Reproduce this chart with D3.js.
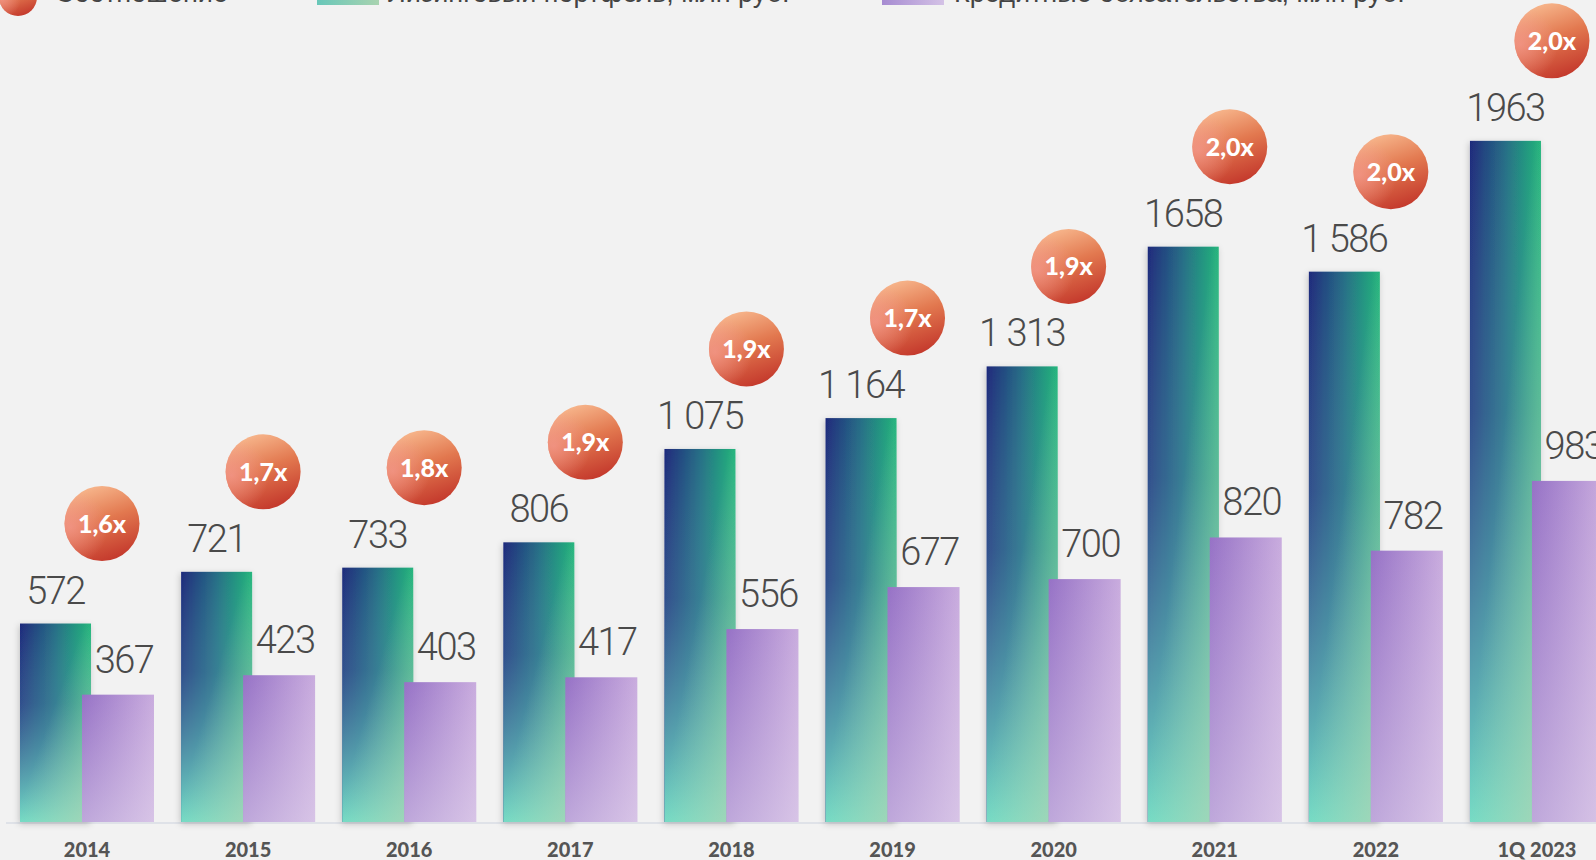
<!DOCTYPE html>
<html lang="ru">
<head>
<meta charset="utf-8">
<script src="https://d3js.org/d3.v7.min.js"></script>
<style>
  html, body { margin: 0; padding: 0; background: #f2f2f2; overflow: hidden; }
</style>
</head>
<body>
<script>
  var categories = ['2014', '2015', '2016', '2017', '2018', '2019', '2020', '2021', '2022', '1Q 2023'];
  var leasing = [572, 721, 733, 806, 1075, 1164, 1313, 1658, 1586, 1963];
  var credit = [367, 423, 403, 417, 556, 677, 700, 820, 782, 983];
  var leasingLabels = ['572', '721', '733', '806', '1 075', '1 164', '1 313', '1658', '1 586', '1963'];
  var creditLabels = ['367', '423', '403', '417', '556', '677', '700', '820', '782', '983'];
  var ratios = ['1,6x', '1,7x', '1,8x', '1,9x', '1,9x', '1,7x', '1,9x', '2,0x', '2,0x', '2,0x'];
  var legendLabels = ['Соотношение', 'Лизинговый портфель, млн руб.', 'Кредитные обязательства, млн руб.'];

  const W = 1596, H = 860;
  const baseY = 822;

  const svg = d3.select('body').append('svg')
    .attr('width', W).attr('height', H)
    .style('display', 'block');

  svg.append('rect').attr('width', W).attr('height', H).attr('fill', '#f2f2f2');

  const defs = svg.append('defs');

  function linGrad(id, x1, y1, x2, y2, stops) {
    const g = defs.append('linearGradient').attr('id', id)
      .attr('x1', x1).attr('y1', y1).attr('x2', x2).attr('y2', y2);
    stops.forEach(s => g.append('stop').attr('offset', s[0]).attr('stop-color', s[1]).attr('stop-opacity', s[2] == null ? 1 : s[2]));
  }
  // green bar layers
  linGrad('gA', 0, 0, 1, 0, [[0, '#1f2a7c'], [0.5, '#276e86'], [1, '#1fb47a']]);
  linGrad('gB', 0, 0, 0, 1, [[0, '#6fd6bf', 0], [0.4, '#5fa7b4', 0.3], [1, '#72dcc6', 1]]);
  linGrad('gC', 0, 0, 1, 1, [[0.45, '#b3d4b2', 0], [1, '#b3d4b2', 0.75]]);
  // purple bar layers
  linGrad('pA', 0, 0, 1, 0, [[0, '#9672c6'], [1, '#c9acde']]);
  linGrad('pB', 0, 0, 0, 1, [[0, '#e6dcef', 0], [1, '#e6dcef', 0.5]]);
  // legend swatches
  linGrad('lg', 0, 0, 1, 0, [[0, '#68c7b9'], [1, '#a9d3b0']]);
  linGrad('lp', 0, 0, 1, 0, [[0, '#a68bd1'], [1, '#d4c2e6']]);
  // bubble
  linGrad('cA', 0.35, 0, 0.7, 1, [[0, '#f7b68c'], [0.45, '#e2784f'], [1, '#c2352a']]);
  const rg = defs.append('radialGradient').attr('id', 'cB').attr('cx', 0.08).attr('cy', 0.55).attr('r', 0.5);
  rg.append('stop').attr('offset', 0).attr('stop-color', '#f59a92').attr('stop-opacity', 0.7);
  rg.append('stop').attr('offset', 1).attr('stop-color', '#f59a92').attr('stop-opacity', 0);

  const sh = defs.append('filter').attr('id', 'shadow').attr('x', -0.2).attr('y', -0.1).attr('width', 1.4).attr('height', 1.2);
  sh.append('feDropShadow').attr('dx', -1).attr('dy', 2).attr('stdDeviation', 3)
    .attr('flood-color', '#000').attr('flood-opacity', 0.2);

  const x = d3.scaleBand()
    .domain(categories)
    .range([20, 1604])
    .paddingInner(0.168)
    .paddingOuter(0)
    .align(0);

  const y = d3.scaleLinear().domain([0, 2000]).range([baseY, baseY - 694]);

  const gW = 71, pW = 72, pOff = 62;

  // axis line
  svg.append('line')
    .attr('x1', 6).attr('x2', W).attr('y1', baseY + 1).attr('y2', baseY + 1)
    .attr('stroke', '#dfe2e8').attr('stroke-width', 2);

  const groups = svg.selectAll('g.grp')
    .data(categories)
    .enter().append('g').attr('class', 'grp')
    .attr('transform', d => 'translate(' + x(d) + ',0)');

  groups.each(function (d, i) {
    const g = d3.select(this);
    // leasing bar
    const top = y(leasing[i]);
    const h = baseY - top;
    g.append('rect').attr('x', 0).attr('y', top).attr('width', gW).attr('height', h)
      .attr('fill', 'url(#gA)').attr('filter', 'url(#shadow)');
    g.append('rect').attr('x', 0).attr('y', top).attr('width', gW).attr('height', h).attr('fill', 'url(#gB)');
    g.append('rect').attr('x', 0).attr('y', top).attr('width', gW).attr('height', h).attr('fill', 'url(#gC)');

    // credit bar
    const ptop = y(credit[i]);
    const ph = baseY - ptop;
    g.append('rect').attr('x', pOff).attr('y', ptop).attr('width', pW).attr('height', ph).attr('fill', 'url(#pA)');
    g.append('rect').attr('x', pOff).attr('y', ptop).attr('width', pW).attr('height', ph).attr('fill', 'url(#pB)');

    // value labels
    g.append('text')
      .attr('x', gW / 2).attr('y', top - 20)
      .attr('text-anchor', 'middle')
      .style('font-family', 'Roboto, sans-serif').style('font-weight', 300)
      .style('font-size', '38px').style('letter-spacing', '-1.5px')
      .attr('fill', '#4a4a4a')
      .text(leasingLabels[i]);
    g.append('text')
      .attr('x', pOff + pW / 2 + 6).attr('y', ptop - 22)
      .attr('text-anchor', 'middle')
      .style('font-family', 'Roboto, sans-serif').style('font-weight', 300)
      .style('font-size', '38px').style('letter-spacing', '-1.5px')
      .attr('fill', '#4a4a4a')
      .text(creditLabels[i]);

    // ratio bubble
    const cx = 82, cy = top - 100;
    g.append('circle').attr('cx', cx).attr('cy', cy).attr('r', 37.5).attr('fill', 'url(#cA)');
    g.append('circle').attr('cx', cx).attr('cy', cy).attr('r', 37.5).attr('fill', 'url(#cB)');
    g.append('text')
      .attr('x', cx).attr('y', cy + 9)
      .attr('text-anchor', 'middle')
      .style('font-family', 'Lato, sans-serif').style('font-weight', 900)
      .style('font-size', '25px')
      .attr('fill', '#ffffff')
      .text(ratios[i]);

    // year label
    g.append('text')
      .attr('x', 67).attr('y', 857)
      .attr('text-anchor', 'middle')
      .style('font-family', 'Lato, sans-serif').style('font-weight', 900)
      .style('font-size', '20px')
      .attr('fill', '#555555')
      .text(d);
  });

  // legend (partly cut at the top, as in the source)
  const lg = svg.append('g');
  lg.append('circle').attr('cx', 18).attr('cy', -3).attr('r', 19).attr('fill', 'url(#cA)');
  lg.append('circle').attr('cx', 18).attr('cy', -3).attr('r', 19).attr('fill', 'url(#cB)');
  lg.append('text').attr('x', 55).attr('y', 2)
    .style('font-family', '"Liberation Sans", Arial, sans-serif').style('font-size', '27px')
    .attr('fill', '#444').text(legendLabels[0]);
  lg.append('rect').attr('x', 317).attr('y', -20).attr('width', 62).attr('height', 25).attr('fill', 'url(#lg)');
  lg.append('text').attr('x', 388).attr('y', 2)
    .style('font-family', '"Liberation Sans", Arial, sans-serif').style('font-size', '27px')
    .attr('fill', '#444').text(legendLabels[1]);
  lg.append('rect').attr('x', 882).attr('y', -20).attr('width', 62).attr('height', 25).attr('fill', 'url(#lp)');
  lg.append('text').attr('x', 954).attr('y', 2)
    .style('font-family', '"Liberation Sans", Arial, sans-serif').style('font-size', '27px')
    .attr('fill', '#444').text(legendLabels[2]);
</script>
</body>
</html>
